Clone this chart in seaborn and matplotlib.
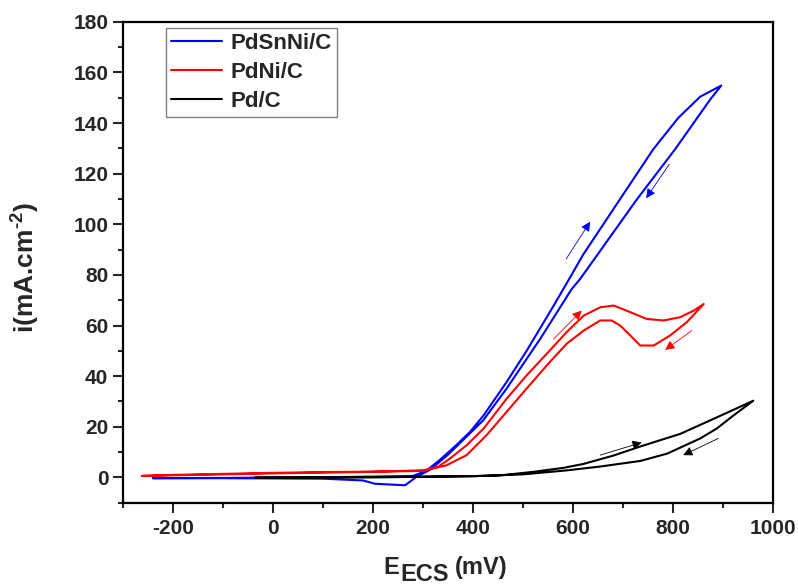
import numpy as np
import pandas as pd
import seaborn as sns
import matplotlib
matplotlib.use('Agg')
import matplotlib.pyplot as plt

# potential (mV) and current density (mA/cm2), forward scan then reverse scan
pdsnni_e = [-240, -100, 0, 100, 200, 280, 307, 334, 365, 394, 421, 467, 507, 560, 588, 620, 694, 760, 810, 854, 896,
            874, 804, 728, 614, 597, 534, 467, 420, 394, 350, 314, 288, 264, 204, 180, 100, 0, -100, -240]
pdsnni_i = [-0.3, -0.2, 0, 0.1, 0.3, 0.6, 2.7, 7.0, 12.5, 18.0, 24.5, 37.7, 50.0, 67.5, 77.0, 88.0, 110, 129.6, 142,
            150.4, 154.8,
            149.3, 129.7, 110, 78.4, 74.4, 54.7, 35.1, 22.5, 17.5, 9.0, 3.0, 0.4, -3.1, -2.5, -1.2, -0.5, -0.4, -0.3, -0.3]

pdni_e = [-262, -200, -100, 0, 100, 200, 300, 330, 354, 387, 421, 467, 507, 547, 587, 621, 654, 681, 714, 747, 781,
          814, 841, 861,
          827, 794, 761, 734, 714, 694, 677, 654, 621, 587, 547, 507, 467, 427, 387, 347, 300, 200, 100, 0, -100, -262]
pdni_i = [0.6, 1.0, 1.4, 1.8, 2.1, 2.3, 2.8, 4.2, 7.5, 12.7, 19.3, 31.1, 40.3, 48.8, 57.4, 63.9, 67.2, 67.9, 65.3,
          62.6, 62.0, 63.3, 65.9, 68.5,
          61.3, 56.1, 52.1, 52.1, 56.1, 60.0, 62.0, 62.0, 58.0, 52.8, 44.2, 35.1, 25.9, 16.7, 8.8, 4.8, 2.6, 2.2, 1.9,
          1.6, 1.2, 0.6]

pdc_e = [-36, 100, 300, 400, 454, 520, 581, 620, 680, 734, 814, 887, 960,
         920, 887, 854, 788, 734, 654, 588, 500, 400, 200, -36]
pdc_i = [0.0, 0.1, 0.3, 0.5, 0.8, 2.2, 3.8, 5.3, 8.6, 12.2, 17.2, 23.7, 30.3,
         24.4, 19.3, 15.4, 9.4, 6.5, 4.3, 2.8, 1.2, 0.5, 0.0, -0.2]

labels = ["PdSnNi/C", "PdNi/C", "Pd/C"]
colors = ["#0000ff", "#ff0000", "#000000"]

sns.set_style("ticks")
plt.rcParams['font.family'] = ['Liberation Sans', 'DejaVu Sans']
plt.rcParams['font.weight'] = 'bold'
plt.rcParams['axes.labelweight'] = 'bold'
plt.rcParams['axes.unicode_minus'] = False
plt.rcParams['mathtext.fontset'] = 'custom'
plt.rcParams['mathtext.rm'] = 'Liberation Sans:bold'
plt.rcParams['mathtext.bf'] = 'Liberation Sans:bold'
plt.rcParams['mathtext.default'] = 'bf'

fig = plt.figure(figsize=(7.98, 5.88), dpi=100)
ax = fig.add_axes([0.154, 0.145, 0.815, 0.818])

series = [(pdsnni_e, pdsnni_i), (pdni_e, pdni_i), (pdc_e, pdc_i)]
for (e, i), lab, col in zip(series, labels, colors):
    d = pd.DataFrame({"E": e, "i": i})
    sns.lineplot(data=d, x="E", y="i", sort=False, estimator=None, color=col, lw=1.5, label=lab, ax=ax)

# scan direction arrows
arrows = [((586, 86.3), (634, 101), colors[0]), ((792, 123.7), (746, 110.3), colors[0]),
          ((561, 54.7), (617, 65.9), colors[1]), ((837, 58), (784, 50.4), colors[1]),
          ((654, 8.8), (737, 13.8), colors[2]), ((890, 15.4), (820, 8.8), colors[2])]
for tail, head, col in arrows:
    ax.annotate("", xy=head, xytext=tail,
                arrowprops=dict(arrowstyle="-|>", color=col, lw=0.6, mutation_scale=14, shrinkA=0, shrinkB=0))

ax.set_xlim(-300, 1000)
ax.set_ylim(-10, 180)
ax.set_xticks([-200, 0, 200, 400, 600, 800, 1000])
ax.set_xticks(np.arange(-300, 1001, 100), minor=True)
ax.set_yticks(np.arange(0, 181, 20))
ax.set_yticks(np.arange(-10, 181, 10), minor=True)
ax.tick_params(which='major', direction='out', length=7, width=1.5, labelsize=15)
ax.tick_params(which='minor', direction='out', length=3.6, width=1.5)
ax.tick_params(axis='x', which='major', pad=4.5)
ax.tick_params(axis='y', which='major', pad=3.5)
for s in ax.spines.values():
    s.set_linewidth(1.6)
    s.set_color('black')

ax.set_xlabel("")
ax.set_ylabel(r"i(mA.cm$^{\text{-2}}$)", fontsize=19, fontweight='bold')
ax.yaxis.set_label_coords(-0.125, 0.49)

# x label: subscript drawn at full size, as in the original
fig.text(383 / 798, 1 - 574 / 588, "E", fontsize=17, fontweight='bold', ha='left', va='baseline')
fig.text(400 / 798, 1 - 581 / 588, "ECS", fontsize=17, fontweight='bold', ha='left', va='baseline')
fig.text(455 / 798, 1 - 574 / 588, "(mV)", fontsize=17, fontweight='bold', ha='left', va='baseline')

leg = ax.legend(loc='upper left', bbox_to_anchor=(0.066, 0.988), fontsize=16, frameon=True, fancybox=False,
                edgecolor='#808080', framealpha=1, handlelength=2.3, handletextpad=0.35, labelspacing=0.35,
                borderpad=0.25, borderaxespad=0)
leg.get_frame().set_linewidth(1.0)

fig.savefig("out.png", dpi=100)
